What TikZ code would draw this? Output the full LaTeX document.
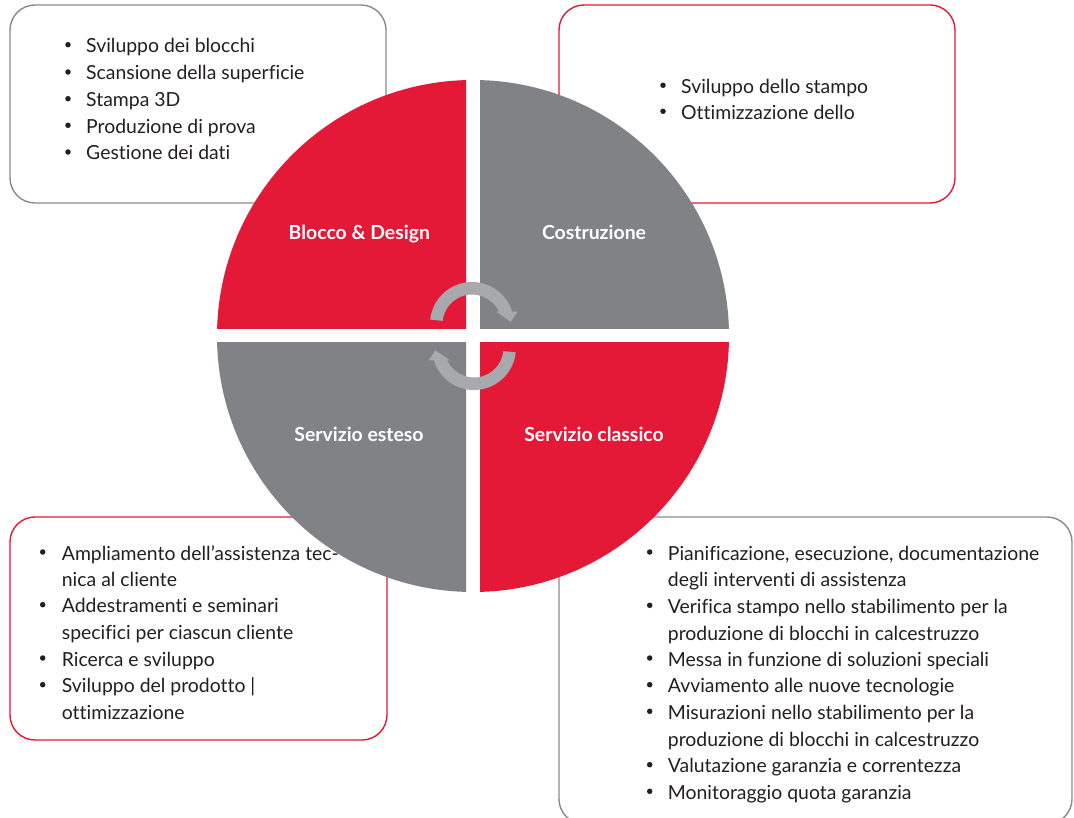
\documentclass[tikz,border=0pt]{standalone}
\usepackage{fontspec}
\setmainfont{Lato}[Ligatures=NoCommon]
\definecolor{myred}{HTML}{E31937}
\definecolor{mygray}{HTML}{808285}
\definecolor{arrowgray}{HTML}{A7A9AC}
\definecolor{boxgray}{HTML}{8A8A8A}
\definecolor{txt}{HTML}{231F20}
\newcommand\bulitem[5]{\node[bul] (#1b) at (#2,-#4+8) {}; \node[itemtext] (#1) at (#3,-#4) {#5};}
\newcommand\contline[4]{\node[itemtext] (#1) at (#2,-#3) {#4};}
\begin{document}
\begin{tikzpicture}[x=1pt,y=1pt,
  infobox/.style={line width=1.4pt, rounded corners=25pt, fill=white},
  itemtext/.style={anchor=base west, inner sep=0pt, text=txt, font=\fontsize{19.4}{22}\selectfont},
  bul/.style={circle, fill=txt, inner sep=0pt, minimum size=5.5pt},
  quadlabel/.style={anchor=base, inner sep=0pt, text=white, font=\bfseries\fontsize{19.4}{22}\selectfont},
  cyclearrow/.style={fill=arrowgray}
]
\useasboundingbox (0,0) rectangle (1074,-818);
\clip (0,0) rectangle (1074,-818);
% boxes
\draw[infobox, draw=boxgray] (10,-5) rectangle (386,-203);
\draw[infobox, draw=myred] (559,-5) rectangle (955,-203);
\draw[infobox, draw=myred] (10,-517) rectangle (387,-740);
\draw[infobox, draw=boxgray] (559,-517) rectangle (1072,-824);
% circle quadrants
\begin{scope}\clip (0,-329) rectangle (466,0);\fill[myred] (473,-336) circle[radius=256];\end{scope}
\begin{scope}\clip (480,-329) rectangle (1074,0);\fill[mygray] (473,-336) circle[radius=256];\end{scope}
\begin{scope}\clip (0,-343) rectangle (466,-818);\fill[mygray] (473,-336) circle[radius=256];\end{scope}
\begin{scope}\clip (480,-343) rectangle (1074,-818);\fill[myred] (473,-336) circle[radius=256];\end{scope}
% cycle arrows
\begin{scope}[shift={(472,-324)}]
\fill[cyclearrow] (174:42) arc[start angle=174,end angle=17.3,radius=42] -- (45.5,12.5) -- (38.7,2.3) -- (24,12.5) -- (25:29.5) arc[start angle=25,end angle=174,radius=29.5] -- cycle;
\end{scope}
\begin{scope}[shift={(474,-348)}, rotate=180]
\fill[cyclearrow] (174:42) arc[start angle=174,end angle=17.3,radius=42] -- (45.5,12.5) -- (38.7,2.3) -- (24,12.5) -- (25:29.5) arc[start angle=25,end angle=174,radius=29.5] -- cycle;
\end{scope}
% quadrant labels
\node[quadlabel] (q1) at (359.3,-240) {Blocco \& Design};
\node[quadlabel] (q2) at (594,-240) {Costruzione};
\node[quadlabel] (q3) at (359,-441) {Servizio esteso};
\node[quadlabel] (q4) at (594,-441) {Servizio classico};
% top-left box
\bulitem{tl1}{68}{86}{52.7}{Sviluppo dei blocchi}
\bulitem{tl2}{68}{86}{80}{Scansione della superficie}
\bulitem{tl3}{68}{86}{106.7}{Stampa 3D}
\bulitem{tl4}{68}{86}{133.3}{Produzione di prova}
\bulitem{tl5}{68}{86}{160}{Gestione dei dati}
% top-right box
\bulitem{tr1}{663}{681}{93.3}{Sviluppo dello stampo}
\bulitem{tr2}{663}{681}{119.3}{Ottimizzazione dello}
% bottom-left box
\bulitem{bl1}{42.7}{61.7}{560}{Ampliamento dell’assistenza tec-}
\contline{bl2}{61.7}{586}{nica al cliente}
\bulitem{bl3}{42.7}{61.7}{612.7}{Addestramenti e seminari}
\contline{bl4}{61.7}{639.3}{specifici per ciascun cliente}
\bulitem{bl5}{42.7}{61.7}{666}{Ricerca e sviluppo}
\bulitem{bl6}{42.7}{61.7}{692.7}{Sviluppo del prodotto |}
\contline{bl7}{61.7}{719.3}{ottimizzazione}
% bottom-right box
\bulitem{br1}{649.7}{667.7}{560}{Pianificazione, esecuzione, documentazione}
\contline{br2}{667.7}{586.7}{degli interventi di assistenza}
\bulitem{br3}{649.7}{667.7}{613.3}{Verifica stampo nello stabilimento per la}
\contline{br4}{667.7}{640}{produzione di blocchi in calcestruzzo}
\bulitem{br5}{649.7}{667.7}{666}{Messa in funzione di soluzioni speciali}
\bulitem{br6}{649.7}{667.7}{692.7}{Avviamento alle nuove tecnologie}
\bulitem{br7}{649.7}{667.7}{719.3}{Misurazioni nello stabilimento per la}
\contline{br8}{667.7}{746}{produzione di blocchi in calcestruzzo}
\bulitem{br9}{649.7}{667.7}{772.7}{Valutazione garanzia e correntezza}
\bulitem{br10}{649.7}{667.7}{799.3}{Monitoraggio quota garanzia}
\end{tikzpicture}
\end{document}
